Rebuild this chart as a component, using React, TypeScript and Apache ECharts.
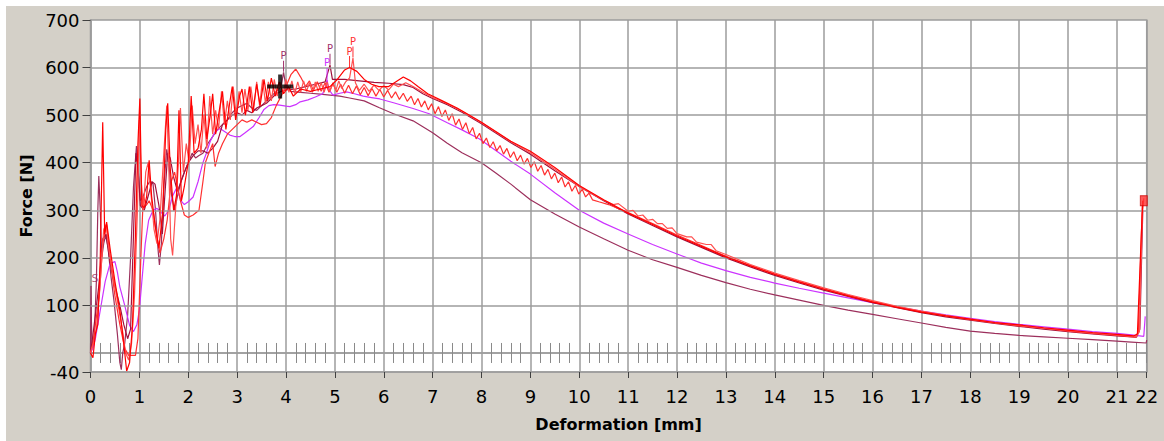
import React, { useEffect, useRef } from "react";
import * as echarts from "echarts";

type Pt = [number, number];

// Force–deformation records, [deformation mm, force N]
const specimenA: Pt[] = [
  [0, 0], [0.05, -10], [0.1, 40], [0.15, 60], [0.2, 200], [0.25, 485], [0.29, 250], [0.33, 275],
  [0.4, 220], [0.5, 150], [0.6, 90], [0.68, 20], [0.74, -38], [0.8, -20], [0.86, 60], [0.92, 250],
  [0.97, 440], [1.01, 535], [1.05, 310], [1.1, 305], [1.15, 330], [1.2, 405], [1.25, 330], [1.32, 270],
  [1.4, 220], [1.48, 300], [1.54, 470], [1.58, 525], [1.63, 390], [1.7, 300], [1.76, 330], [1.81, 510],
  [1.86, 320], [1.92, 350], [2.0, 400], [2.06, 540], [2.12, 420], [2.2, 430], [2.27, 470], [2.32, 545],
  [2.38, 450], [2.45, 500], [2.5, 545], [2.56, 460], [2.62, 500], [2.7, 550], [2.77, 470], [2.84, 520],
  [2.9, 560], [2.97, 490], [3.05, 540], [3.1, 555], [3.17, 500], [3.25, 560], [3.32, 505], [3.4, 565],
  [3.47, 520], [3.55, 575], [3.62, 530], [3.7, 578], [3.78, 540], [3.86, 570], [3.95, 545], [4.05, 560],
  [4.15, 540], [4.3, 555], [4.5, 550], [4.7, 555], [4.9, 560], [5.05, 575], [5.2, 595], [5.3, 600],
  [5.45, 592], [5.6, 575], [5.75, 565], [5.9, 560], [6.1, 560], [6.25, 570], [6.4, 580], [6.55, 572],
  [6.7, 560], [6.9, 545], [7.2, 530], [7.5, 515], [7.8, 497], [8.0, 485], [8.3, 465], [8.6, 445],
  [9.0, 424], [9.5, 390], [10.0, 352], [10.5, 322], [11.0, 294], [11.5, 270], [12.0, 246], [12.5, 224],
  [13.0, 202], [13.5, 183], [14.0, 165], [14.5, 149], [15.0, 134], [15.5, 120], [16.0, 107], [16.5, 96],
  [17.0, 86], [17.5, 78], [18.0, 71], [18.5, 64], [19.0, 59], [19.5, 53], [20.0, 48], [20.5, 43],
  [21.0, 39], [21.35, 36], [21.42, 40], [21.5, 250], [21.53, 320],
];

const specimenB: Pt[] = [
  [0, 0], [0.06, 20], [0.12, 50], [0.2, 150], [0.27, 260], [0.32, 270], [0.36, 230], [0.45, 170],
  [0.55, 110], [0.65, 50], [0.72, 0], [0.78, -15], [0.84, 20], [0.9, 120], [0.96, 300], [1.0, 490],
  [1.04, 360], [1.08, 300], [1.13, 380], [1.18, 400], [1.25, 320], [1.3, 260], [1.36, 230], [1.42, 280],
  [1.5, 420], [1.56, 520], [1.6, 400], [1.64, 240], [1.68, 205], [1.74, 300], [1.8, 400], [1.84, 515],
  [1.9, 380], [1.96, 440], [2.02, 400], [2.08, 520], [2.14, 440], [2.2, 480], [2.26, 420], [2.32, 500],
  [2.38, 430], [2.44, 540], [2.5, 460], [2.56, 510], [2.62, 470], [2.68, 550], [2.74, 480], [2.8, 530],
  [2.86, 490], [2.92, 560], [2.98, 500], [3.04, 550], [3.1, 505], [3.16, 555], [3.22, 510], [3.28, 560],
  [3.34, 515], [3.4, 570], [3.46, 520], [3.52, 575], [3.58, 525], [3.64, 570], [3.7, 530], [3.76, 575],
  [3.82, 540], [3.88, 570], [3.94, 545], [4.0, 575], [4.06, 548], [4.12, 572], [4.18, 545], [4.24, 570],
  [4.3, 548], [4.36, 572], [4.42, 550], [4.48, 568], [4.54, 548], [4.6, 570], [4.66, 550], [4.72, 568],
  [4.78, 548], [4.84, 570], [4.9, 550], [4.96, 568], [5.02, 552], [5.08, 572], [5.14, 556], [5.22, 570],
  [5.3, 578], [5.37, 620], [5.42, 568], [5.5, 552], [5.6, 565], [5.7, 550], [5.8, 563], [5.9, 552],
  [6.0, 562], [6.1, 553], [6.2, 565], [6.3, 560], [6.45, 568], [6.6, 560], [6.8, 548], [7.0, 537],
  [7.3, 524], [7.6, 508], [8.0, 484], [8.3, 464], [8.6, 444], [9.0, 421], [9.5, 386], [10.0, 350],
  [10.5, 321], [10.7, 312], [10.8, 314], [11.0, 298], [11.1, 300], [11.2, 288], [11.3, 290], [11.4, 279],
  [11.5, 281], [11.6, 272], [11.7, 272], [11.8, 262], [11.9, 263], [12.0, 251], [12.2, 244], [12.3, 244],
  [12.4, 233], [12.6, 228], [12.7, 228], [12.8, 215], [13.0, 207], [13.5, 186], [14.0, 168], [14.5, 152],
  [15.0, 137], [15.5, 123], [16.0, 110], [16.5, 98], [17.0, 88], [17.5, 79], [18.0, 71], [18.5, 64],
  [19.0, 58], [19.5, 52], [20.0, 47], [20.5, 42], [21.0, 38], [21.4, 35], [21.46, 45], [21.52, 290],
  [21.55, 325],
];

const specimenC: Pt[] = [
  [0, 0], [0.05, 20], [0.1, 60], [0.18, 120], [0.25, 230], [0.33, 270], [0.4, 200], [0.5, 120],
  [0.6, 60], [0.7, 10], [0.78, -5], [0.85, -5], [0.92, -5], [0.97, 30], [1.03, 200], [1.08, 330],
  [1.14, 310], [1.2, 320], [1.28, 300], [1.35, 250], [1.42, 210], [1.5, 240], [1.57, 280], [1.65, 360],
  [1.72, 380], [1.78, 350], [1.84, 320], [1.92, 290], [2.0, 285], [2.1, 290], [2.22, 300], [2.3, 360],
  [2.35, 400], [2.42, 420], [2.5, 440], [2.55, 392], [2.62, 420], [2.7, 440], [2.8, 460], [2.9, 470],
  [3.0, 480], [3.1, 490], [3.2, 485], [3.3, 490], [3.4, 485], [3.5, 480], [3.6, 482], [3.7, 495],
  [3.8, 520], [3.9, 540], [4.0, 560], [4.1, 585], [4.2, 597], [4.3, 580], [4.4, 560], [4.48, 572],
  [4.56, 552], [4.64, 570], [4.72, 550], [4.8, 568], [4.88, 548], [4.96, 566], [5.04, 548], [5.12, 565],
  [5.2, 546], [5.28, 563], [5.36, 545], [5.44, 561], [5.52, 543], [5.6, 558], [5.68, 541], [5.76, 556],
  [5.84, 540], [5.92, 554], [6.0, 538], [6.08, 552], [6.16, 536], [6.24, 549], [6.32, 533], [6.4, 546],
  [6.48, 529], [6.56, 540], [6.63, 522], [6.7, 535], [6.77, 517], [6.84, 530], [6.91, 511], [6.98, 524],
  [7.05, 503], [7.12, 518], [7.19, 497], [7.26, 511], [7.33, 489], [7.4, 503], [7.47, 479], [7.54, 492],
  [7.61, 470], [7.68, 484], [7.75, 461], [7.82, 474], [7.89, 450], [7.96, 462], [8.03, 440], [8.1, 452],
  [8.17, 432], [8.24, 444], [8.31, 425], [8.38, 436], [8.45, 418], [8.52, 430], [8.59, 411], [8.66, 423],
  [8.73, 404], [8.8, 416], [8.87, 397], [8.94, 409], [9.01, 390], [9.08, 402], [9.15, 382], [9.22, 394],
  [9.29, 374], [9.36, 386], [9.43, 366], [9.5, 378], [9.57, 358], [9.64, 370], [9.71, 349], [9.78, 360],
  [9.85, 340], [9.92, 352], [9.99, 334], [10.06, 344], [10.13, 328], [10.2, 336], [10.27, 322], [10.4, 318],
  [10.6, 312], [11.0, 295], [11.5, 272], [12.0, 248], [12.5, 226], [13.0, 203], [13.5, 184], [14.0, 166],
  [14.5, 150], [15.0, 135], [15.5, 121], [16.0, 108], [16.5, 97], [17.0, 87], [17.5, 78], [18.0, 70],
  [18.5, 63], [19.0, 57], [19.5, 52], [20.0, 46], [20.5, 41], [21.0, 37], [21.38, 33], [21.44, 45],
  [21.52, 310], [21.54, 320],
];

const specimenD: Pt[] = [
  [0, 0], [0.04, 30], [0.1, 80], [0.18, 150], [0.25, 240], [0.32, 250], [0.4, 190], [0.5, 140],
  [0.6, 100], [0.68, 60], [0.76, 30], [0.82, 50], [0.88, 250], [0.93, 420], [0.97, 390], [1.02, 310],
  [1.1, 300], [1.18, 330], [1.26, 360], [1.32, 355], [1.4, 310], [1.47, 250], [1.52, 330], [1.58, 420],
  [1.63, 410], [1.7, 370], [1.78, 340], [1.85, 360], [1.92, 380], [2.0, 400], [2.1, 415], [2.2, 425],
  [2.3, 425], [2.4, 420], [2.5, 430], [2.6, 445], [2.7, 480], [2.8, 490], [2.9, 500], [3.0, 505],
  [3.1, 500], [3.2, 510], [3.3, 505], [3.4, 515], [3.5, 520], [3.6, 525], [3.7, 535], [3.8, 545],
  [3.9, 550], [4.0, 553], [4.2, 555], [4.4, 560], [4.6, 565], [4.8, 570], [4.9, 605], [4.95, 575],
  [5.2, 575], [5.5, 572], [5.8, 569], [6.1, 567], [6.4, 564], [6.6, 558], [6.8, 545], [7.0, 535],
  [7.3, 522], [7.6, 506], [8.0, 482], [8.3, 462], [8.6, 442], [9.0, 418], [9.5, 383], [10.0, 350],
  [10.5, 320], [11.0, 292], [11.5, 268], [12.0, 244], [12.5, 222], [13.0, 200], [13.5, 181], [14.0, 163],
  [14.5, 147], [15.0, 132], [15.5, 119], [16.0, 106], [16.5, 95], [17.0, 85], [17.5, 76], [18.0, 69],
  [18.5, 62], [19.0, 56], [19.5, 50], [20.0, 45], [20.5, 40], [21.0, 36], [21.4, 33], [21.47, 50],
  [21.53, 300],
];

const specimenE: Pt[] = [
  [0, 0], [0.01, 140], [0.02, 60], [0.04, 10], [0.08, 40], [0.12, 150], [0.15, 300], [0.17, 372],
  [0.2, 300], [0.23, 200], [0.27, 230], [0.31, 248], [0.36, 220], [0.42, 160], [0.48, 110], [0.55, 40],
  [0.6, -20], [0.63, -35], [0.66, 0], [0.7, 20], [0.76, 80], [0.82, 200], [0.88, 350], [0.94, 435],
  [0.98, 380], [1.02, 320], [1.08, 330], [1.15, 350], [1.22, 362], [1.28, 355], [1.33, 300], [1.38, 220],
  [1.41, 185], [1.45, 230], [1.5, 350], [1.56, 428], [1.6, 400], [1.66, 330], [1.72, 300], [1.78, 330],
  [1.85, 360], [1.92, 380], [2.0, 400], [2.08, 420], [2.15, 410], [2.22, 415], [2.3, 420], [2.4, 440],
  [2.5, 455], [2.6, 470], [2.7, 480], [2.8, 490], [2.9, 505], [3.0, 515], [3.1, 520], [3.2, 525],
  [3.3, 515], [3.4, 510], [3.5, 520], [3.6, 530], [3.7, 540], [3.8, 550], [3.9, 560], [3.95, 590],
  [4.0, 560], [4.1, 550], [4.3, 548], [4.5, 546], [4.7, 544], [4.9, 542], [5.1, 540], [5.3, 536],
  [5.6, 530], [5.9, 516], [6.2, 503], [6.6, 488], [7.0, 463], [7.3, 441], [7.6, 421], [8.0, 400],
  [8.3, 378], [8.6, 355], [9.0, 322], [9.5, 292], [10.0, 265], [10.5, 240], [11.0, 216], [11.5, 196],
  [12.0, 180], [12.5, 163], [13.0, 148], [13.5, 134], [14.0, 122], [14.5, 111], [15.0, 100], [15.5, 90],
  [16.0, 81], [16.5, 72], [17.0, 63], [17.5, 54], [18.0, 46], [18.5, 41], [19.0, 37], [19.5, 34],
  [20.0, 31], [20.5, 28], [21.0, 25], [21.3, 23], [21.6, 21], [21.61, 27],
];

const specimenF: Pt[] = [
  [0, 0], [0.05, 10], [0.1, 30], [0.2, 90], [0.3, 150], [0.4, 188], [0.5, 192], [0.55, 170],
  [0.6, 139], [0.7, 100], [0.8, 58], [0.88, 45], [0.95, 60], [1.0, 90], [1.05, 150], [1.12, 230],
  [1.19, 279], [1.28, 300], [1.36, 304], [1.45, 295], [1.52, 288], [1.6, 300], [1.68, 330], [1.77, 349],
  [1.85, 320], [1.92, 312], [2.0, 318], [2.1, 328], [2.2, 360], [2.3, 400], [2.37, 420], [2.45, 445],
  [2.55, 465], [2.65, 472], [2.75, 465], [2.85, 458], [2.95, 455], [3.06, 455], [3.15, 462], [3.25, 470],
  [3.33, 476], [3.45, 495], [3.55, 512], [3.65, 520], [3.75, 522], [3.87, 521], [4.0, 519], [4.08, 518],
  [4.2, 522], [4.29, 528], [4.45, 532], [4.6, 538], [4.75, 545], [4.81, 560], [4.84, 575], [4.87, 555],
  [4.96, 542], [5.1, 546], [5.24, 549], [5.4, 545], [5.58, 540], [5.75, 537], [5.92, 534], [6.2, 526],
  [6.6, 514], [6.93, 503], [7.3, 484], [7.6, 469], [7.96, 450], [8.3, 425], [8.6, 403], [9.0, 376],
  [9.5, 337], [10.0, 300], [10.5, 273], [11.0, 250], [11.5, 228], [12.0, 208], [12.5, 189], [13.0, 173],
  [13.5, 159], [14.0, 147], [14.5, 136], [15.0, 126], [15.5, 116], [16.0, 106], [16.5, 97], [17.0, 88],
  [17.5, 80], [18.0, 73], [18.5, 66], [19.0, 60], [19.5, 55], [20.0, 50], [20.5, 45], [21.0, 41],
  [21.3, 38], [21.55, 35], [21.58, 77],
];

// Maximum-force points (P) per specimen
const peakA: Pt = [5.3, 600];
const peakB: Pt = [5.37, 620];
const peakD: Pt = [4.9, 605];
const peakE: Pt = [3.95, 590];
const peakF: Pt = [4.84, 575];

// Start-of-test point (S), break point (B) and the read-out cursor
const startPoint: Pt[] = [[0.01, 140]];
const breakPoint: Pt[] = [[21.55, 320]];
const cursorPoint: Pt[] = [[3.88, 560]];

// Axis scales
const xMin = 0;
const xMax = 21.61;
const xEndLabel = "22";
const yMin = -40;
const yMax = 700;
const yTickValues = [-40, 100, 200, 300, 400, 500, 600, 700];
const yGridLevels = [100, 200, 300, 400, 500, 600];

const FONT = "DejaVu Sans";
const GRID_GRAY = "#9c9c9c";

function peakMark(pt: Pt, color: string) {
  return {
    silent: true,
    symbol: "rect",
    symbolSize: [1, 11],
    symbolOffset: [0, -6],
    itemStyle: { color },
    label: {
      show: true,
      formatter: "P",
      position: "top",
      distance: 0,
      color,
      fontSize: 10,
      fontFamily: FONT,
    },
    data: [{ coord: pt }],
  };
}

function curve(name: string, data: Pt[], color: string, z: number, mark?: any) {
  return {
    name,
    type: "line",
    data,
    showSymbol: false,
    symbol: "none",
    silent: true,
    z,
    lineStyle: { color, width: 1.2 },
    markPoint: mark,
  };
}

// Two helper axes sit on the zero line and carry its 0.2 mm marks: one pointing down, one up.
// Each is anchored to its own (identical, hidden) force axis.
const zeroAxisBase = {
  type: "value",
  min: xMin,
  max: xMax,
  interval: 1,
  axisTick: { show: false },
  axisLabel: { show: false },
  splitLine: { show: false },
  minorTick: { show: true, splitNumber: 5, length: 10, lineStyle: { color: "#8a8a8a", width: 1 } },
};

export default function App() {
  const ref = useRef<HTMLDivElement>(null);

  useEffect(() => {
    if (!ref.current) return;
    const chart = echarts.init(ref.current, undefined, { renderer: "svg" });
    chart.setOption({
      animation: false,
      backgroundColor: "#d4d0c8",
      grid: {
        left: 84.5,
        top: 14,
        right: 17.3,
        bottom: 69,
        show: true,
        backgroundColor: "#ffffff",
        borderColor: GRID_GRAY,
        borderWidth: 1.5,
      },
      xAxis: [
        {
          type: "value",
          min: xMin,
          max: xMax,
          interval: 1,
          position: "bottom",
          name: "Deformation [mm]",
          nameLocation: "middle",
          nameGap: 44,
          nameTextStyle: { fontFamily: FONT, fontWeight: "bold", fontSize: 16, color: "#000" },
          axisLine: { show: true, onZero: false, lineStyle: { color: GRID_GRAY, width: 1.5 } },
          axisTick: { show: true, length: 6, lineStyle: { color: "#404040" } },
          axisLabel: {
            margin: 15,
            fontSize: 18,
            fontFamily: FONT,
            color: "#000",
            showMinLabel: true,
            showMaxLabel: true,
            formatter: (v: number) => (v > 21.5 ? xEndLabel : String(Math.round(v))),
          },
          splitLine: { show: true, lineStyle: { color: GRID_GRAY, width: 1.5 } },
        },
        {
          ...zeroAxisBase,
          position: "bottom",
          axisLine: {
            show: true,
            onZero: true,
            onZeroAxisIndex: 0,
            lineStyle: { color: GRID_GRAY, width: 1.5 },
          },
        },
        {
          ...zeroAxisBase,
          position: "top",
          axisLine: {
            show: true,
            onZero: true,
            onZeroAxisIndex: 1,
            lineStyle: { color: GRID_GRAY, width: 1.5 },
          },
        },
      ],
      yAxis: [
        {
          type: "value",
          min: yMin,
          max: yMax,
          position: "left",
          name: "Force [N]",
          nameLocation: "middle",
          nameGap: 55,
          nameRotate: 90,
          nameTextStyle: { fontFamily: FONT, fontWeight: "bold", fontSize: 16, color: "#000" },
          axisLine: { show: true, onZero: false, lineStyle: { color: GRID_GRAY, width: 1.5 } },
          axisTick: { show: true, length: 8, customValues: yTickValues, lineStyle: { color: "#404040" } },
          axisLabel: { customValues: yTickValues, margin: 11, fontSize: 18, fontFamily: FONT, color: "#000" },
          splitLine: { show: false },
        },
        {
          type: "value",
          min: yMin,
          max: yMax,
          position: "right",
          axisLine: { show: false, onZero: false },
          axisTick: { show: false },
          axisLabel: { show: false },
          splitLine: { show: false },
        },
      ],
      series: [
        {
          type: "line",
          data: [],
          silent: true,
          z: 1,
          markLine: {
            silent: true,
            symbol: "none",
            label: { show: false },
            lineStyle: { color: GRID_GRAY, width: 1.5, type: "solid" },
            data: yGridLevels.map((v) => ({ yAxis: v })),
          },
        },
        curve("E", specimenE, "#9c2f5c", 3, peakMark(peakE, "#a0306a")),
        curve("F", specimenF, "#cc33ff", 3, peakMark(peakF, "#cc33ff")),
        curve("D", specimenD, "#a0103c", 4, peakMark(peakD, "#a0306a")),
        curve("C", specimenC, "#ff3030", 4),
        curve("B", specimenB, "#ff5050", 5, peakMark(peakB, "#ff3030")),
        curve("A", specimenA, "#ff0000", 5, peakMark(peakA, "#ff3030")),
        {
          type: "scatter",
          data: startPoint,
          silent: true,
          z: 6,
          symbolSize: 1,
          itemStyle: { color: "#9c2f5c" },
          label: {
            show: true,
            formatter: "S",
            position: "right",
            offset: [-5, -8],
            color: "#9c2f5c",
            fontSize: 11,
            fontFamily: FONT,
          },
        },
        {
          type: "scatter",
          data: breakPoint,
          silent: true,
          z: 6,
          symbol: "rect",
          symbolSize: [7, 10],
          itemStyle: { color: "#ff3030", borderColor: "#cc0000", borderWidth: 1 },
        },
        {
          type: "scatter",
          data: cursorPoint,
          silent: true,
          z: 7,
          symbol: "path://M0,10h26v4h-26z M11,0h4v24h-4z",
          symbolSize: [26, 24],
          itemStyle: { color: "#000000" },
        },
      ],
    });
    return () => chart.dispose();
  }, []);

  return (
    <div
      ref={ref}
      style={{ position: "fixed", left: 6, top: 6, width: 1158, height: 435 }}
    />
  );
}
